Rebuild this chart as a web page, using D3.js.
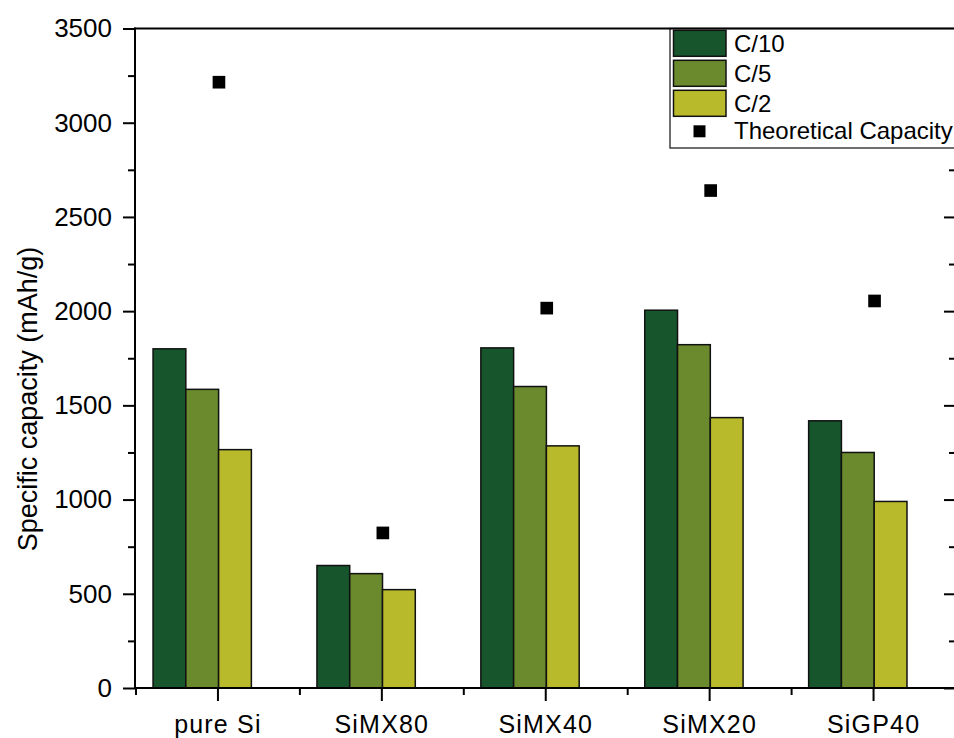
<!DOCTYPE html>
<html>
<head>
<meta charset="utf-8">
<script src="https://cdn.jsdelivr.net/npm/d3@7"></script>
<style>
  html, body { margin: 0; padding: 0; background: #fff; }
  svg { display: block; font-family: "Liberation Sans", Arial, sans-serif; }
</style>
</head>
<body>
<svg id="chart" width="954" height="738"></svg>
<script>
// Samples and rate series
const categories = ["pure Si", "SiMX80", "SiMX40", "SiMX20", "SiGP40"];
const seriesNames = ["C/10", "C/5", "C/2"];
const seriesColors = ["#17562c", "#6a8a2d", "#b8ba2c"];

// Specific capacity (mAh/g) at each C-rate
const capC10 = [1800, 650, 1805, 2005, 1418];
const capC5  = [1585, 607, 1600, 1822, 1250];
const capC2  = [1265, 522, 1285, 1435, 990];
const theoretical = [3215, 823, 2016, 2640, 2054];

const yMajorTicks = [0, 500, 1000, 1500, 2000, 2500, 3000, 3500];
const yMinorTicks = [250, 750, 1250, 1750, 2250, 2750, 3250];

const seriesValues = [capC10, capC5, capC2];

const svg = d3.select("#chart");

const plot = { left: 135, right: 956, top: 28.5, bottom: 688 };

const x = d3.scaleBand()
  .domain(categories)
  .range([plot.left + 1, plot.right - 0.5])
  .paddingInner(0).paddingOuter(0);

const bw = x.bandwidth();
const xInner = d3.scaleBand()
  .domain(seriesNames)
  .range([bw * 0.104, bw * 0.704])
  .padding(0);

const y = d3.scaleLinear().domain([0, 3500]).range([plot.bottom, plot.top]);

// Bars
const rows = categories.map((c, i) => ({
  cat: c,
  vals: seriesNames.map((s, j) => ({ s, j, v: seriesValues[j][i] }))
}));

const groups = svg.append("g").selectAll("g").data(rows).join("g")
  .attr("transform", d => `translate(${x(d.cat)},0)`);

groups.selectAll("rect").data(d => d.vals).join("rect")
  .attr("x", d => xInner(d.s))
  .attr("width", xInner.bandwidth())
  .attr("y", d => y(d.v))
  .attr("height", d => y(0) - y(d.v))
  .attr("fill", d => seriesColors[d.j])
  .attr("stroke", "#111")
  .attr("stroke-width", 1.5);

// Theoretical capacity markers
const square = d3.symbol().type(d3.symbolSquare).size(160);
svg.append("g").selectAll("path").data(categories).join("path")
  .attr("d", square)
  .attr("fill", "#000")
  .attr("transform", (c, i) => `translate(${x(c) + bw / 2 + 1},${y(theoretical[i])})`);

// Left axis: major ticks with labels
const gLeft = svg.append("g")
  .attr("transform", `translate(${plot.left},0)`)
  .call(d3.axisLeft(y).tickValues(yMajorTicks).tickFormat(d3.format("d"))
    .tickSize(12).tickSizeOuter(0).tickPadding(11))
  .call(g => g.select(".domain").remove());
gLeft.selectAll("line").attr("stroke", "#000").attr("stroke-width", 2);
gLeft.selectAll("text").attr("font-size", 26).attr("fill", "#000")
  .attr("font-family", "'Liberation Sans', Arial, sans-serif");

// Left axis: minor ticks
const gLeftMinor = svg.append("g")
  .attr("transform", `translate(${plot.left},0)`)
  .call(d3.axisLeft(y).tickValues(yMinorTicks).tickSize(7).tickFormat(""))
  .call(g => g.select(".domain").remove());
gLeftMinor.selectAll("line").attr("stroke", "#000").attr("stroke-width", 2);

// Right axis ticks, pointing inward
const gRight = svg.append("g")
  .attr("transform", `translate(${plot.right},0)`)
  .call(d3.axisLeft(y).tickValues(yMajorTicks).tickSize(12).tickFormat(""))
  .call(g => g.select(".domain").remove());
gRight.selectAll("line").attr("stroke", "#000").attr("stroke-width", 2);
const gRightMinor = svg.append("g")
  .attr("transform", `translate(${plot.right},0)`)
  .call(d3.axisLeft(y).tickValues(yMinorTicks).tickSize(7).tickFormat(""))
  .call(g => g.select(".domain").remove());
gRightMinor.selectAll("line").attr("stroke", "#000").attr("stroke-width", 2);

// Bottom axis: category ticks and labels
const gBottom = svg.append("g")
  .attr("transform", `translate(0,${plot.bottom})`)
  .call(d3.axisBottom(x).tickSize(13).tickSizeOuter(0).tickPadding(14))
  .call(g => g.select(".domain").remove());
gBottom.selectAll("line").attr("stroke", "#000").attr("stroke-width", 2);
gBottom.selectAll("text").attr("font-size", 25).attr("fill", "#000")
  .attr("letter-spacing", "1.2px")
  .attr("font-family", "'Liberation Sans', Arial, sans-serif");

// Bottom axis: minor ticks between categories
const bottomMinor = categories.map(c => x(c));
svg.append("g").selectAll("line").data(bottomMinor).join("line")
  .attr("x1", d => d).attr("x2", d => d)
  .attr("y1", plot.bottom).attr("y2", plot.bottom + 7)
  .attr("stroke", "#000").attr("stroke-width", 2);

// Axis frame lines
const frame = svg.append("g").attr("stroke", "#000").attr("stroke-width", 2);
frame.append("line").attr("x1", plot.left).attr("x2", plot.left)
  .attr("y1", plot.top - 1).attr("y2", plot.bottom + 1);
frame.append("line").attr("x1", plot.left - 1).attr("x2", plot.right)
  .attr("y1", plot.bottom).attr("y2", plot.bottom);
frame.append("line").attr("x1", plot.right).attr("x2", plot.right)
  .attr("y1", plot.top).attr("y2", plot.bottom);

// Y axis title
svg.append("text")
  .attr("transform", "rotate(-90)")
  .attr("x", -399)
  .attr("y", 37)
  .attr("text-anchor", "middle")
  .attr("font-size", 27)
  .attr("fill", "#000")
  .text("Specific capacity (mAh/g)");

// Legend
const legend = svg.append("g");
legend.append("rect")
  .attr("x", 670).attr("y", plot.top)
  .attr("width", 300).attr("height", 119.5)
  .attr("fill", "#fff").attr("stroke", "#222").attr("stroke-width", 1.3);

const legendRows = seriesNames.map((s, j) => ({ name: s, color: seriesColors[j], cy: 43.3 + 30 * j }));
legend.selectAll("rect.sw").data(legendRows).join("rect")
  .attr("class", "sw")
  .attr("x", 673.5).attr("width", 52.5)
  .attr("y", d => d.cy - 13).attr("height", 26)
  .attr("fill", d => d.color)
  .attr("stroke", "#111").attr("stroke-width", 1.5);
legend.selectAll("text.lt").data(legendRows).join("text")
  .attr("class", "lt")
  .attr("x", 734).attr("y", d => d.cy).attr("dy", "0.36em")
  .attr("font-size", 24).attr("fill", "#000")
  .text(d => d.name);
legend.append("path")
  .attr("d", d3.symbol().type(d3.symbolSquare).size(144))
  .attr("transform", "translate(699.5,131.3)")
  .attr("fill", "#000");
legend.append("text")
  .attr("x", 734).attr("y", 130.5).attr("dy", "0.36em")
  .attr("font-size", 24).attr("fill", "#000")
  .text("Theoretical Capacity");

// Top border, drawn over the legend frame
svg.append("line").attr("x1", plot.left - 1).attr("x2", plot.right)
  .attr("y1", plot.top).attr("y2", plot.top)
  .attr("stroke", "#000").attr("stroke-width", 2);
</script>
</body>
</html>
